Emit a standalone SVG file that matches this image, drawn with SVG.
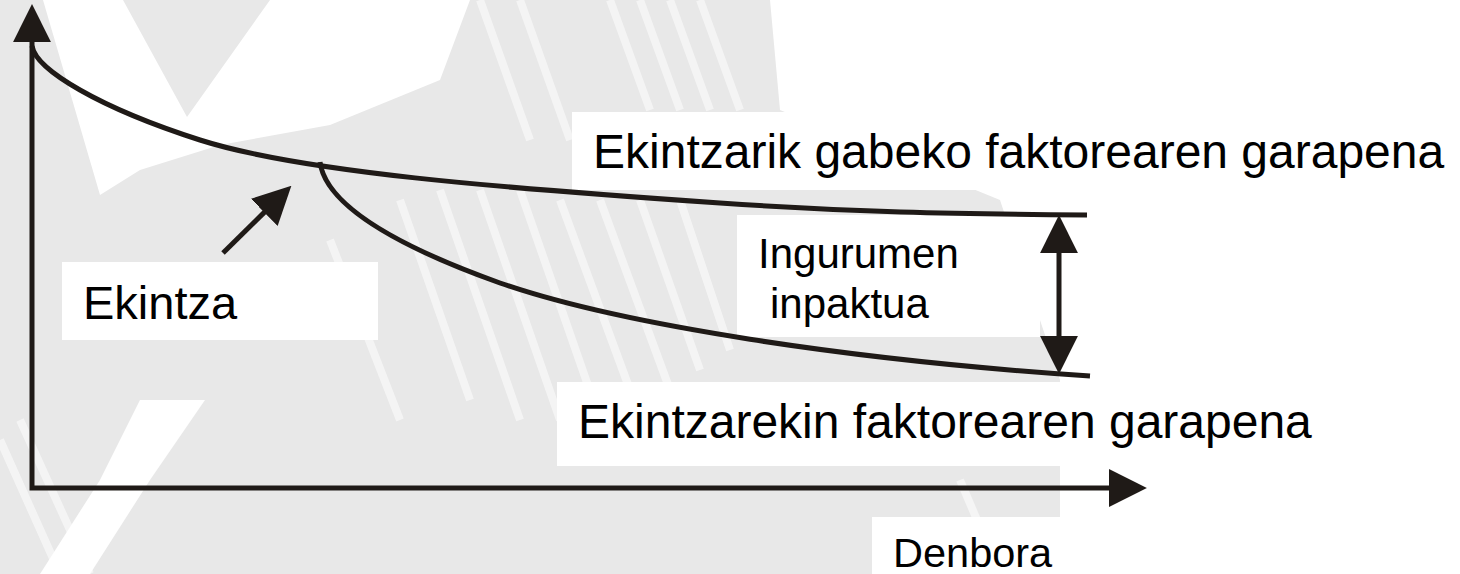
<svg xmlns="http://www.w3.org/2000/svg" width="1460" height="574" viewBox="0 0 1460 574">
<style>
.bg{fill:#e8e8e8}
.hole{fill:#ffffff}
.stripe{stroke:#ffffff;stroke-width:8;opacity:0.55;fill:none}
.box{fill:#ffffff}
.lbl{font-family:"Liberation Sans",Arial,sans-serif;fill:#000000}
.big{font-size:48px}
.mid{font-size:42px}
.ln{fill:none;stroke:#1f1a17;stroke-width:5}
</style>
<defs>
<marker id="ah" markerUnits="userSpaceOnUse" markerWidth="38" markerHeight="38" viewBox="0 0 36 36" refX="2" refY="18" orient="auto-start-reverse">
<path d="M0,0 L36,18 L0,36 Z" fill="#1f1a17"/>
</marker>
</defs>
<rect width="1460" height="574" fill="#ffffff"/>
<g id="background">
<polygon class="bg" points="0,0 770,0 780,110 1000,200 1060,380 1060,520 1000,574 0,574"/>
<polygon class="hole" points="43,0 123,0 187,117 270,0 470,0 440,80 330,125 220,145 140,170 100,195"/>
<polygon class="hole" points="140,400 205,400 150,480 90,574 40,574 100,480"/>
<g class="stripe">
<line x1="480" y1="0" x2="530" y2="140"/>
<line x1="520" y1="0" x2="570" y2="140"/>
<line x1="610" y1="0" x2="650" y2="110"/>
<line x1="640" y1="0" x2="680" y2="110"/>
<line x1="670" y1="0" x2="710" y2="110"/>
<line x1="700" y1="0" x2="740" y2="110"/>
<line x1="400" y1="200" x2="470" y2="400"/>
<line x1="440" y1="190" x2="520" y2="420"/>
<line x1="480" y1="190" x2="560" y2="420"/>
<line x1="520" y1="190" x2="600" y2="420"/>
<line x1="560" y1="200" x2="630" y2="390"/>
<line x1="600" y1="200" x2="670" y2="390"/>
<line x1="640" y1="200" x2="700" y2="370"/>
<line x1="680" y1="200" x2="730" y2="350"/>
<line x1="330" y1="240" x2="400" y2="420"/>
<line x1="0" y1="440" x2="60" y2="574"/>
<line x1="20" y1="420" x2="90" y2="574"/>
<line x1="960" y1="480" x2="1000" y2="574"/>
</g>
</g>
<g id="label-ekintza">
<rect class="box" x="62" y="262" width="316" height="78"/>
<text class="lbl" style="font-size:47px" x="83" y="319">Ekintza</text>
</g>
<g id="label-without">
<rect class="box" x="572" y="112" width="888" height="78"/>
<text class="lbl big" x="593" y="168">Ekintzarik gabeko faktorearen garapena</text>
</g>
<g id="label-impact">
<rect class="box" x="737" y="215" width="303" height="122"/>
<text class="lbl mid" x="758" y="268">Ingurumen</text>
<text class="lbl mid" x="770" y="318">inpaktua</text>
</g>
<g id="label-with">
<rect class="box" x="557" y="382" width="903" height="84"/>
<text class="lbl big" x="578" y="438">Ekintzarekin faktorearen garapena</text>
</g>
<g id="label-time">
<rect class="box" x="872" y="517" width="588" height="57"/>
<text class="lbl" style="font-size:41.5px" x="893" y="567">Denbora</text>
</g>
<g id="connectors">
<path class="ln" d="M32,40 L32,488 L1111,488" marker-start="url(#ah)" marker-end="url(#ah)"/>
<path class="ln" d="M32,46 C36,70 100,108 200,140 C300,172 500,188 720,203 C850,212 950,214 1087,215"/>
<path class="ln" d="M320,162 C325,200 380,240 500,283 C620,325 850,360 1090,376"/>
<path class="ln" d="M1059,251 L1059,338" marker-start="url(#ah)" marker-end="url(#ah)"/>
<path class="ln" d="M223,253 L265.8,210.9" marker-end="url(#ah)"/>
</g>
</svg>
